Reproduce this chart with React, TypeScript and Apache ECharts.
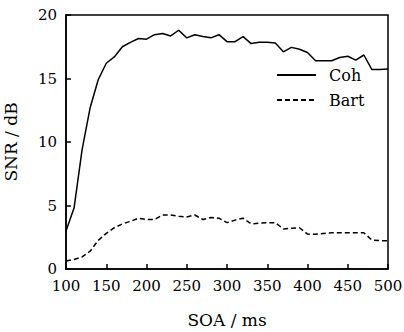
import React, { useEffect, useRef } from "react";
import * as echarts from "echarts";

const soa = [100,110,120,130,140,150,160,170,180,190,200,210,220,230,240,250,260,270,280,290,300,310,320,330,340,350,360,370,380,390,400,410,420,430,440,450,460,470,480,490,500];
const coh = [3.0,4.8,9.4,12.7,14.9,16.2,16.7,17.5,17.85,18.15,18.1,18.45,18.55,18.35,18.8,18.2,18.45,18.3,18.2,18.45,17.9,17.9,18.3,17.75,17.85,17.85,17.8,17.1,17.45,17.3,17.05,16.4,16.4,16.4,16.65,16.75,16.45,16.85,15.7,15.7,15.75];
const bart = [0.63,0.75,0.95,1.4,2.25,2.8,3.25,3.55,3.75,4.0,3.9,3.9,4.25,4.25,4.15,4.1,4.25,3.9,4.05,4.0,3.65,3.85,4.0,3.55,3.6,3.65,3.65,3.15,3.2,3.25,2.75,2.73,2.8,2.85,2.85,2.85,2.85,2.85,2.28,2.23,2.23];
const xTicks = { min: 100, max: 500, interval: 50 };
const yTicks = { min: 0, max: 20, interval: 5 };

const FONT = "DejaVu Serif";

export default function App() {
  const ref = useRef<HTMLDivElement>(null);
  useEffect(() => {
    const chart = echarts.init(ref.current!, null, { renderer: "svg" });
    const axisCommon = {
      axisLine: { show: true, lineStyle: { color: "#000", width: 1.5 } },
      axisTick: { show: true, inside: true, length: 5, lineStyle: { color: "#000", width: 1.5 } },
      splitLine: { show: false },
      nameLocation: "middle" as const,
      nameTextStyle: { fontFamily: FONT, fontSize: 17, color: "#000" },
      axisLabel: { fontFamily: FONT, fontSize: 15, color: "#000", margin: 9 },
    };
    chart.setOption({
      animation: false,
      backgroundColor: "#fff",
      grid: {
        left: 66, right: 16, top: 15, bottom: 63,
        containLabel: false,
        outerBoundsMode: "none",
        show: true, borderColor: "#000", borderWidth: 1.5, backgroundColor: "transparent",
      },
      legend: {
        orient: "vertical",
        left: 271,
        top: 62,
        itemWidth: 39,
        itemHeight: 14,
        itemGap: 9,
        data: ["Coh", "Bart"],
        itemStyle: { opacity: 0 },
        textStyle: { fontFamily: FONT, fontSize: 16, color: "#000", padding: [0, 0, 0, 8] },
      },
      xAxis: {
        type: "value",
        ...axisCommon,
        min: xTicks.min,
        max: xTicks.max,
        interval: xTicks.interval,
        name: "SOA / ms",
        nameGap: 42,
      },
      yAxis: {
        type: "value",
        ...axisCommon,
        min: yTicks.min,
        max: yTicks.max,
        interval: yTicks.interval,
        name: "SNR / dB",
        nameGap: 47,
      },
      series: [
        {
          name: "Coh",
          type: "line",
          symbol: "none",
          data: soa.map((x, i) => [x, coh[i]]),
          lineStyle: { color: "#000", width: 1.5, type: "solid" },
          itemStyle: { color: "#000" },
        },
        {
          name: "Bart",
          type: "line",
          symbol: "none",
          data: soa.map((x, i) => [x, bart[i]]),
          lineStyle: { color: "#000", width: 1.5, type: [5, 3] },
          itemStyle: { color: "#000" },
        },
      ],
    });
    return () => chart.dispose();
  }, []);
  return <div ref={ref} style={{ width: 404, height: 332, position: "absolute", left: 0, top: 0 }} />;
}
